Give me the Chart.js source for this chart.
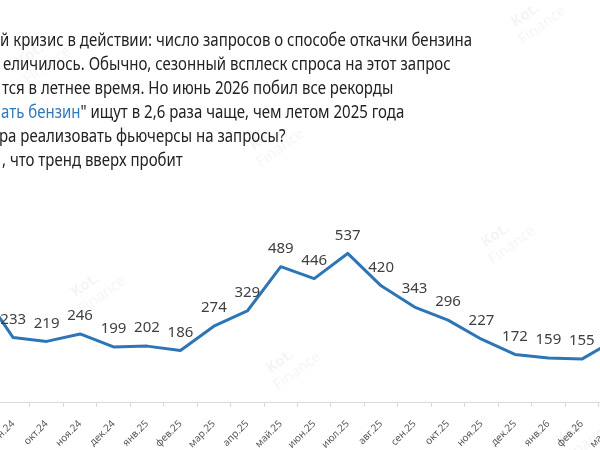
<!DOCTYPE html>
<html>
<head>
<meta charset="utf-8">
<script src="https://cdn.jsdelivr.net/npm/chart.js@4"></script>
<style>
  html, body { margin: 0; padding: 0; background: #fff; overflow: hidden; }
  body { width: 600px; height: 450px; position: relative; }
  #wrap { position: absolute; left: -60px; top: 0; width: 720px; height: 450px; }
</style>
</head>
<body>
<div id="wrap"><canvas id="searchChart"></canvas></div>
<script>
// месяцы и число запросов (видимая часть графика)
const months = ['авг.24', 'сен.24', 'окт.24', 'ноя.24', 'дек.24', 'янв.25', 'фев.25', 'мар.25', 'апр.25', 'май.25',
    'июн.25', 'июл.25', 'авг.25', 'сен.25', 'окт.25', 'ноя.25', 'дек.25', 'янв.26', 'фев.26', 'мар.26'];
const requests = [410, 233, 219, 246, 199, 202, 186, 274, 329, 489, 446, 537, 420, 343, 296, 227, 172, 159, 155, 225];

// видимые строки заголовка (начало обрезано краем картинки)
const titleLines = [
    [['й кризис в действии: число запросов о способе откачки бензина', '#222']],
    [['еличилось. Обычно, сезонный всплеск спроса на этот запрос', '#222']],
    [['тся в летнее время. Но июнь 2026 побил все рекорды', '#222']],
    [['ать бензин', '#2f79bd'], ['" ищут в 2,6 раза чаще, чем летом 2025 года', '#222']],
    [['ра реализовать фьючерсы на запросы?', '#222']],
    [[', что тренд вверх пробит', '#222']]
];

const shiftX = 60; // canvas сдвинут влево
const titleStarts = [0, 3, 2, 1, -1, 2];

const titlePlugin = {
    id: 'titleText',
    afterDraw(chart) {
        const ctx = chart.ctx;
        ctx.save();
        ctx.font = '18px "Noto Sans"';
        const sx = 472 / ctx.measureText(titleLines[0][0][0]).width;
        ctx.textBaseline = 'alphabetic';
        titleLines.forEach((parts, i) => {
            ctx.save();
            ctx.translate(shiftX + titleStarts[i], 46 + i * 24);
            ctx.scale(sx, 1);
            let x = 0;
            parts.forEach(([text, color]) => {
                ctx.fillStyle = color;
                ctx.fillText(text, x, 0);
                x += ctx.measureText(text).width;
            });
            ctx.restore();
        });
        ctx.restore();
    }
};

const watermarkSpots = [[530, 22], [268, 145], [90, 292], [285, 368], [500, 242], [35, 62], [575, 440]];

const watermarkPlugin = {
    id: 'watermark',
    beforeDatasetsDraw(chart) {
        const ctx = chart.ctx;
        ctx.save();
        ctx.fillStyle = 'rgba(0,0,0,0.045)';
        ctx.textAlign = 'center';
        watermarkSpots.forEach(([x, y]) => {
            ctx.save();
            ctx.translate(shiftX + x, y);
            ctx.rotate(-Math.PI / 5);
            ctx.font = 'bold 15px "Noto Sans"';
            ctx.fillText('Kot.', 0, -4);
            ctx.font = '15px "Noto Sans"';
            ctx.fillText('Finance', 8, 14);
            ctx.restore();
        });
        ctx.restore();
    }
};

const valueLabels = {
    id: 'valueLabels',
    afterDatasetsDraw(chart) {
        const ctx = chart.ctx;
        const meta = chart.getDatasetMeta(0);
        ctx.save();
        ctx.font = '15px "Noto Sans"';
        ctx.fillStyle = '#404040';
        ctx.textAlign = 'center';
        ctx.textBaseline = 'middle';
        meta.data.forEach((pt, i) => {
            ctx.fillText(requests[i], pt.x, pt.y - 18);
        });
        ctx.restore();
    }
};

new Chart(document.getElementById('searchChart'), {
    type: 'line',
    data: {
        labels: months,
        datasets: [{
            data: requests,
            borderColor: '#2e75b6',
            borderWidth: 3,
            borderJoinStyle: 'round',
            borderCapStyle: 'round',
            pointRadius: 0,
            tension: 0,
            fill: false
        }]
    },
    options: {
        responsive: true,
        maintainAspectRatio: false,
        animation: false,
        layout: { padding: { left: 23, right: 28, top: 236, bottom: 0 } },
        plugins: {
            legend: { display: false },
            tooltip: { enabled: false }
        },
        scales: {
            x: {
                offset: true,
                grid: {
                    display: true,
                    offset: true,
                    drawOnChartArea: false,
                    tickLength: 5,
                    color: '#d9d9d9'
                },
                border: { display: true, color: '#d9d9d9', width: 1 },
                ticks: {
                    autoSkip: false,
                    minRotation: 45,
                    maxRotation: 45,
                    padding: 11,
                    color: '#595959',
                    font: { family: 'Noto Sans', size: 10 }
                },
                afterFit(scale) {
                    scale.height = 48;
                    scale.paddingLeft = 0;
                    scale.paddingRight = 0;
                }
            },
            y: {
                display: false,
                min: 0,
                max: 600
            }
        }
    },
    plugins: [watermarkPlugin, valueLabels, titlePlugin]
});
</script>
</body>
</html>
